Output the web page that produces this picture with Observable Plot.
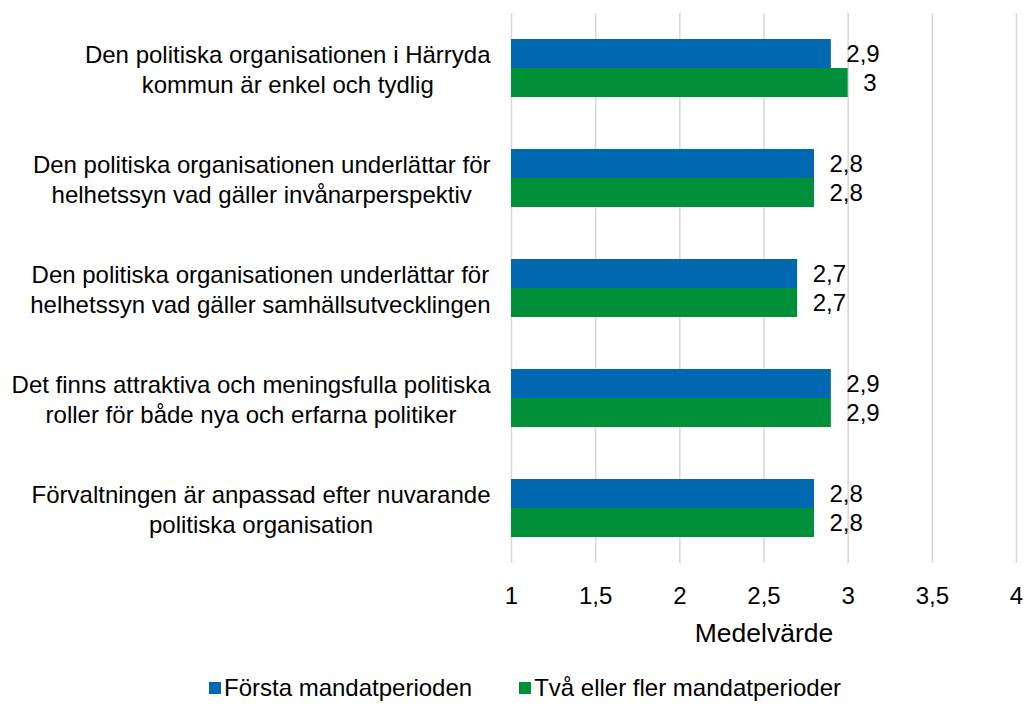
<!DOCTYPE html>
<html>
<head>
<meta charset="utf-8">
<script src="https://cdn.jsdelivr.net/npm/d3@7"></script>
<script src="https://cdn.jsdelivr.net/npm/@observablehq/plot@0.6"></script>
<style>
  body { margin: 0; background: #fff; font-family: "Liberation Sans", Arial, sans-serif; }
  #legend { display: flex; gap: 47px; padding-left: 209px; margin-top: 14px; font-size: 24px; color: #000; }
  #legend span.item { display: flex; align-items: center; }
  #legend span.sw { width: 12px; height: 12px; display: inline-block; margin-right: 3px; }
</style>
</head>
<body>
<div id="chart"></div>
<div id="legend"></div>
<script>
const categories = [
  "Den politiska organisationen i Härryda\nkommun är enkel och tydlig",
  "Den politiska organisationen underlättar för\nhelhetssyn vad gäller invånarperspektiv",
  "Den politiska organisationen underlättar för\nhelhetssyn vad gäller samhällsutvecklingen",
  "Det finns attraktiva och meningsfulla politiska\nroller för både nya och erfarna politiker",
  "Förvaltningen är anpassad efter nuvarande\npolitiska organisation"
];
const seriesNames = ["Första mandatperioden", "Två eller fler mandatperioder"];
const forstaValues = [2.9, 2.8, 2.7, 2.9, 2.8];
const tvaValues = [3.0, 2.8, 2.7, 2.9, 2.8];
const xTicks = [1, 1.5, 2, 2.5, 3, 3.5, 4];
const colors = ["#0067B1", "#009039"];

const data = [];
categories.forEach((c, i) => {
  data.push({cat: c, series: seriesNames[0], value: forstaValues[i]});
  data.push({cat: c, series: seriesNames[1], value: tvaValues[i]});
});
const fmt = v => String(v).replace(".", ",");

const chart = Plot.plot({
  width: 1025,
  height: 660,
  marginLeft: 511,
  marginRight: 9,
  marginTop: 11,
  marginBottom: 95,
  style: {fontFamily: "'Liberation Sans', Arial, sans-serif", fontSize: "24px", color: "#000", background: "#fff"},
  x: {domain: [1, 4]},
  y: {domain: seriesNames, paddingInner: 0, paddingOuter: 0.85, axis: null},
  fy: {domain: categories, padding: 0},
  color: {domain: seriesNames, range: colors},
  marks: [
    Plot.gridX(xTicks, {stroke: "#d9d9d9", strokeOpacity: 1, strokeWidth: 1.6}),
    Plot.axisX({ticks: xTicks, tickFormat: fmt, tickSize: 0, tickPadding: 23, fontSize: 24, label: null}),
    Plot.axisX({ticks: [], tickSize: 0, fontSize: 26.5,
      label: "Medelvärde", labelAnchor: "center", labelArrow: "none", labelOffset: 78}),
    Plot.axisFy({anchor: "left", tickSize: 0, tickPadding: 21, fontSize: 24, lineHeight: 1.22, label: null}),
    Plot.barX(data, {fy: "cat", y: "series", x1: 1, x2: "value", fill: "series"}),
    Plot.text(data, {fy: "cat", y: "series", x: "value", text: d => fmt(d.value), textAnchor: "start", dx: 15, fill: "#000", fontSize: 24})
  ]
});
document.getElementById("chart").appendChild(chart);

// center multi-line category labels around their widest line (right edge fixed)
chart.querySelectorAll('[aria-label="fy-axis tick label"] text').forEach(t => {
  const spans = t.querySelectorAll("tspan");
  let maxW = 0;
  if (spans.length) spans.forEach(s => { maxW = Math.max(maxW, s.getComputedTextLength()); });
  else maxW = t.getComputedTextLength();
  t.setAttribute("text-anchor", "middle");
  if (spans.length) spans.forEach(s => s.setAttribute("x", -maxW / 2));
  else t.setAttribute("x", -maxW / 2);
});

const legend = document.getElementById("legend");
seriesNames.forEach((s, i) => {
  const item = document.createElement("span");
  item.className = "item";
  const sw = document.createElement("span");
  sw.className = "sw";
  sw.style.background = colors[i];
  item.appendChild(sw);
  item.appendChild(document.createTextNode(s));
  legend.appendChild(item);
});
</script>
</body>
</html>
